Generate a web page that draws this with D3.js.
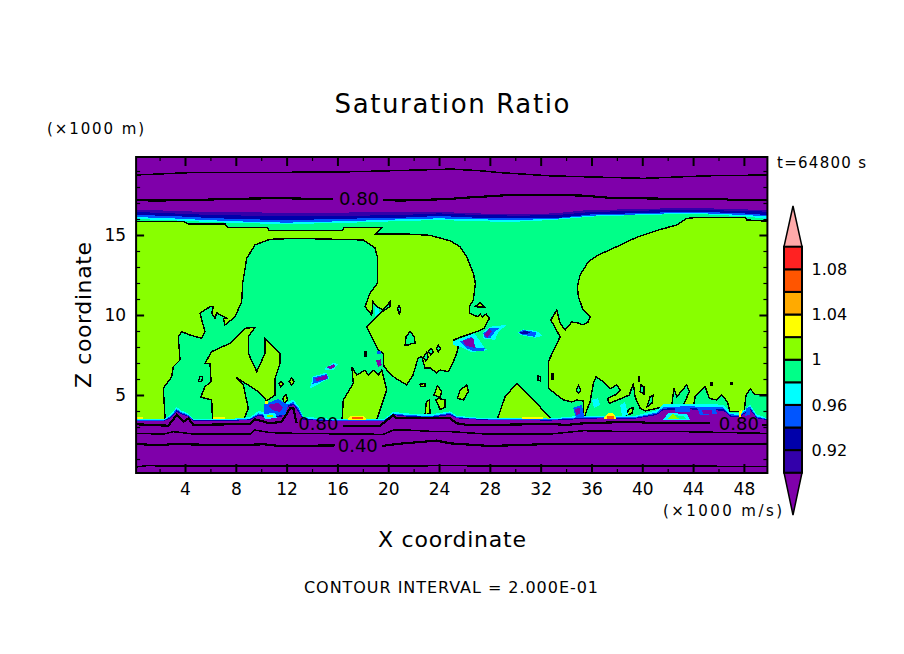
<!DOCTYPE html>
<html>
<head>
<meta charset="utf-8">
<script src="https://cdn.jsdelivr.net/npm/d3@7"></script>
<style>
  html, body { margin: 0; padding: 0; background: #fff; }
  svg { display: block; }
  text { font-family: "DejaVu Sans", sans-serif; fill: #000; }
</style>
</head>
<body>
<div id="chart"></div>
<script>
// colour levels of the shaded field
const levelEdges = [0.90, 0.92, 0.94, 0.96, 0.98, 1.00, 1.02, 1.04, 1.06, 1.08, 1.10]
const levelColors = ["#3300aa", "#0000aa", "#0055ff", "#00ffff", "#00ff88", "#88ff00", "#ffff00", "#ffaa00", "#ff5500", "#ff2222"]
const belowColor = "#7f00aa"
const aboveColor = "#ffaaaa"
const barLabels = [0.92, 0.96, 1, 1.04, 1.08]

const xMajor = [4, 8, 12, 16, 20, 24, 28, 32, 36, 40, 44, 48]
const xMinor = [2, 6, 10, 14, 18, 22, 26, 30, 34, 38, 42, 46]
const zMajor = [5, 10, 15]
const zMinor = [1, 2, 3, 4, 6, 7, 8, 9, 11, 12, 13, 14, 16, 17, 18, 19]

// tropopause band edges, z of each colour boundary
const tropX = [0.15, 3, 6, 9, 12, 15, 18, 21, 24, 27, 30, 33, 36, 39, 42, 45, 48, 49.85]
const tropPurple = [16.56, 16.52, 16.42, 16.42, 16.38, 16.38, 16.42, 16.42, 16.44, 16.35, 16.29, 16.35, 16.58, 16.6, 16.67, 16.67, 16.6, 16.56]
const tropIndigo = [16.44, 16.35, 16.25, 16.21, 16.17, 16.17, 16.21, 16.25, 16.35, 16.25, 16.21, 16.23, 16.44, 16.5, 16.56, 16.56, 16.5, 16.46]
const tropDark = [16.25, 16.19, 16.06, 15.98, 15.94, 15.98, 16.04, 16.08, 16.19, 16.08, 16.04, 16.04, 16.29, 16.35, 16.42, 16.44, 16.35, 16.25]
const tropBlue = [16.12, 16.04, 15.92, 15.83, 15.77, 15.83, 15.9, 15.98, 16.04, 15.98, 15.94, 16.0, 16.21, 16.27, 16.35, 16.35, 16.25, 16.17]
const tropCyan = [16.0, 15.92, 15.81, 15.73, 15.69, 15.73, 15.79, 15.87, 15.94, 15.85, 15.83, 15.94, 16.15, 16.23, 16.29, 16.29, 16.17, 16.0]

// boundary layer band edges
const surfX = [0.15, 2.3, 2.82, 3.34, 3.74, 4.26, 4.66, 7.54, 9.12, 9.77, 10.69, 11.61, 12.0, 12.53, 12.92, 13.32, 15.94, 19.62, 20.01, 20.4, 21.45, 23.29, 24.87,
    25.39, 27.49, 32.74, 34.84, 36.68, 39.31, 41.14, 41.67, 43.77, 44.82, 46.39, 46.92, 47.7, 48.49, 49.02, 49.85]
const surfPurple = [3.35, 3.35, 3.54, 3.96, 3.79, 3.65, 3.38, 3.38, 3.44, 3.71, 3.54, 3.65, 4.23, 4.38, 3.96, 3.44, 3.35, 3.35, 3.54, 3.75, 3.65, 3.58, 3.75,
    3.54, 3.44, 3.4, 3.48, 3.54, 3.5, 3.75, 4.06, 4.1, 4.06, 4.02, 3.65, 3.65, 4.06, 3.54, 3.44]
const surfDark = [3.39, 3.39, 3.6, 4.04, 3.85, 3.7, 3.42, 3.41, 3.48, 3.78, 3.62, 3.75, 4.32, 4.47, 4.08, 3.5, 3.39, 3.39, 3.58, 3.8, 3.7, 3.63, 3.82,
    3.58, 3.47, 3.44, 3.54, 3.58, 3.55, 3.82, 4.15, 4.2, 4.15, 4.12, 3.72, 3.7, 4.15, 3.6, 3.47]
const surfBlue = [3.42, 3.42, 3.65, 4.12, 3.92, 3.75, 3.46, 3.44, 3.52, 3.85, 3.7, 3.85, 4.4, 4.55, 4.2, 3.55, 3.42, 3.42, 3.62, 3.85, 3.75, 3.68, 3.88,
    3.62, 3.5, 3.47, 3.6, 3.62, 3.6, 3.9, 4.25, 4.3, 4.25, 4.22, 3.8, 3.75, 4.25, 3.65, 3.5]
const surfCyan = [3.48, 3.48, 3.75, 4.25, 4.02, 3.85, 3.52, 3.5, 3.62, 4.0, 3.85, 4.0, 4.55, 4.7, 4.32, 3.65, 3.48, 3.48, 3.7, 3.95, 3.85, 3.78, 3.98,
    3.7, 3.55, 3.53, 3.68, 3.7, 3.68, 4.05, 4.45, 4.45, 4.42, 4.4, 3.9, 3.85, 4.4, 3.78, 3.55]

// regions above 1.0 [x, z]
const limeLeft = [[0.15, 3.1], [0.15, 15.85], [3.84, 15.85], [4.24, 15.69], [7.15, 15.69], [7.35, 15.48], [10.5, 15.48], [10.61, 15.29], [16.36, 15.29], [16.52, 15.46], [19.47, 15.46], [18.96, 15.06], [21.48, 15.06], [23.29, 14.98], [24.87, 14.64], [25.65, 14.27], [26.18, 13.64], [26.7, 12.61], [26.86, 11.98], [26.7, 10.94], [26.39, 10.52], [26.39, 10.11], [27.07, 9.88], [27.23, 10.06], [27.45, 9.88], [27.7, 10.06], [27.96, 9.79], [27.54, 9.17], [26.97, 8.96], [25.79, 8.64], [25.13, 8.44], [25.52, 8.02], [25.39, 7.61], [25.13, 7.08], [24.73, 6.46], [24.08, 6.56], [23.82, 6.38], [23.29, 6.69], [22.9, 6.69], [22.64, 7.39], [22.35, 7.31], [21.95, 6.25], [21.46, 5.63], [20.54, 6.06], [19.88, 6.56], [19.61, 6.88], [19.61, 7.61], [19.22, 7.81], [18.83, 8.44], [18.31, 9.27], [18.83, 9.69], [19.35, 10.11], [20.14, 10.52], [20.14, 10.83], [19.59, 10.31], [19.09, 10.52], [18.8, 10.83], [18.7, 10.0], [18.17, 10.52], [18.57, 11.38], [19.14, 11.98], [19.14, 13.64], [18.96, 14.19], [18.02, 14.69], [12.8, 14.79], [10.69, 14.73], [9.51, 14.38], [8.86, 13.54], [8.54, 11.98], [8.46, 10.83], [7.94, 9.89], [7.15, 9.38], [7.02, 9.79], [7.28, 9.79], [6.5, 10.14], [6.36, 9.79], [6.1, 10.11], [6.23, 10.52], [5.97, 10.52], [5.18, 10.11], [5.57, 8.96], [5.31, 8.54], [4.39, 8.75], [3.74, 8.96], [3.47, 8.64], [3.61, 7.19], [3.08, 6.77], [2.95, 6.14], [2.29, 5.42], [2.43, 3.54], [2.43, 3.13]]
const limeMiddle = [[6.18, 3.13], [6.1, 4.69], [5.24, 4.86], [5.57, 5.52], [6.05, 5.83], [5.97, 6.98], [5.57, 6.98], [6.1, 7.71], [7.54, 8.23], [8.72, 9.17], [9.51, 9.23], [8.98, 8.64], [8.98, 7.61], [9.65, 6.46], [10.3, 7.61], [10.3, 8.54], [11.48, 7.61], [11.48, 6.98], [11.09, 6.04], [11.09, 5.0], [10.43, 4.64], [9.77, 5.21], [8.02, 6.11], [8.59, 5.63], [8.98, 4.17], [8.46, 3.13]]
const limeTeeth = [[16.34, 3.13], [16.46, 4.69], [17.25, 5.73], [17.13, 6.77], [17.52, 6.25], [18.17, 6.56], [18.43, 6.25], [18.8, 6.56], [19.22, 6.25], [19.49, 6.56], [19.88, 5.31], [18.96, 3.13]]
const limeHill = [[28.59, 3.13], [28.59, 3.5], [29.2, 4.89], [30.12, 5.73], [31.03, 5.0], [32.87, 3.5], [32.87, 3.13]]
const limeRight = [[49.85, 15.86], [49.85, 5], [48.88, 5.04], [48.49, 5.38], [48.17, 5], [48.02, 3.96], [46.91, 3.96], [46.7, 4.58], [46.26, 5], [45.87, 4.69], [45.28, 4.79], [44.95, 5.52], [44.16, 4.89], [44.02, 4.27], [43.24, 4.38], [43.71, 5.21], [43.5, 5.63], [42.72, 4.89], [42.5, 5.42], [42.32, 4.38], [41.14, 4.17], [40.22, 4], [39.83, 4.17], [39.43, 4.89], [39.3, 5.73], [38.98, 5], [38.25, 4.75], [37.41, 4.48], [37.25, 4.79], [37.86, 5], [38.25, 5.31], [37.99, 5.63], [37.46, 5.38], [36.94, 5.83], [36.36, 6.14], [36.15, 5.73], [35.89, 4.58], [35.63, 4.06], [35.5, 3.75], [35.5, 3.4], [35.36, 3.64], [35.36, 4.63], [34.84, 4.69], [34.45, 4.56], [33.79, 4.69], [32.6, 5.42], [32.6, 7.08], [33.53, 8.64], [32.8, 9.69], [33.27, 10.31], [33.53, 9.5], [33.92, 9.06], [34.45, 9.56], [34.95, 9.5], [35.34, 9.38], [35.73, 9.56], [35.89, 9.88], [35.34, 10.31], [34.97, 11.14], [34.89, 11.77], [35.1, 12.5], [35.76, 13.33], [36.54, 13.75], [37.99, 14.27], [39.57, 14.86], [41.27, 15.31], [42.72, 15.63], [43.5, 16.04], [44.55, 16.11], [48.1, 16.11], [48.24, 15.94]]
const limeIslands = [
    [[12.19, 5.83], [12.4, 6.08], [12.58, 5.83], [12.4, 5.62]],
    [[11.4, 5.73], [11.56, 5.87], [11.74, 5.69], [11.53, 5.52]],
    [[11.69, 4.79], [11.95, 5], [12.08, 4.69], [11.8, 4.48]],
    [[22.9, 3.75], [23, 4.58], [23.24, 4.69], [23.29, 3.85]],
    [[23.76, 4.69], [23.95, 4.79], [24.47, 4.69], [24.47, 4.23], [24.08, 4.1]],
    [[23.6, 5], [23.87, 5.58], [24.21, 5.21], [24.08, 4.85]],
    [[22.5, 5.67], [22.9, 5.72], [22.9, 5.55], [22.55, 5.55]],
    [[26.84, 10.52], [27.23, 10.77], [27.57, 10.48]],
    [[25.45, 4.79], [25.66, 5.31], [26.18, 5.63], [26.31, 5.21], [25.92, 4.69]],
    [[38.78, 3.75], [38.91, 4.1], [39.31, 4.23], [39.18, 3.85]]
]
// pockets below 1.0 inside the lime regions
const greenIslands = [
    [[20.84, 10.6], [20.97, 10.4], [20.89, 10.0], [20.73, 10.4]],
    [[21.33, 8.13], [21.41, 8.65], [21.72, 8.96], [22.04, 8.65], [22.12, 8.23], [21.86, 8.23], [21.6, 8.13]],
    [[23.16, 7.7], [23.37, 7.92], [23.56, 7.7], [23.36, 7.5]],
    [[23.8, 7.92], [23.93, 8.13], [24.12, 7.92], [23.93, 7.7]],
    [[22.77, 7.35], [23.03, 7.67], [23.16, 7.35], [22.96, 7.14]],
    [[5.04, 5.83], [5.18, 6.14], [5.39, 6.14], [5.31, 5.83]],
    [[31.78, 5.94], [31.78, 6.2], [32.0, 6.14], [31.97, 5.88]],
    [[34.8, 5.31], [34.97, 5.58], [35.16, 5.31], [34.97, 5.1]],
    [[39.83, 5.19], [39.91, 5.63], [40.14, 5.5], [40.14, 5.06]],
    [[40.37, 4.25], [40.61, 4.88], [40.85, 5], [40.77, 4.5]],
    [[32.9, 6.0], [32.9, 6.35], [33.02, 6.35], [33.02, 6.0]],
    [[18.12, 7.4], [18.12, 7.7], [18.24, 7.7], [18.24, 7.4]],
    [[39.7, 5.88], [39.7, 6.13], [39.8, 6.13], [39.8, 5.88]],
    [[45.42, 5.6], [45.42, 5.8], [45.52, 5.8], [45.52, 5.6]],
    [[47.0, 5.65], [47.0, 5.8], [47.08, 5.8], [47.08, 5.65]]
]

// scattered low-saturation patches
const patchCyan = [
    [[25.08, 8.33], [25.79, 8.54], [26.7, 8.85], [26.97, 8.65], [27.62, 7.92], [27.89, 7.81], [26.84, 7.71], [26.44, 7.71], [25.65, 8.02], [25.13, 8.12]],
    [[27.49, 8.96], [28.02, 9.27], [29.33, 9.38], [28.67, 8.96], [28.41, 8.44], [27.49, 8.54]],
    [[30.2, 8.9], [30.64, 9.1], [31.69, 9], [32.16, 8.69], [31.56, 8.58], [30.38, 8.75]],
    [[14.89, 6.6], [15.68, 7.02], [16.05, 6.92], [15.68, 6.56]],
    [[13.84, 5.42], [14.05, 6.15], [15.15, 6.4], [15.34, 6.04], [14.63, 5.73]],
    [[18.96, 10.5], [19.2, 10.44], [19.35, 10.13], [18.96, 9.94]],
    [[36.05, 4.69], [36.52, 4.81], [36.68, 4.38], [36.2, 4.19]],
    [[38.25, 4.38], [38.65, 4.56], [38.88, 3.75], [38.41, 3.69]]
]
const patchBlue = [
    [[25.65, 8.33], [26.57, 8.65], [26.91, 7.92], [27.62, 7.92], [27.54, 7.77], [26.7, 7.75], [26.18, 7.92]],
    [[27.49, 8.85], [28.02, 9.21], [28.75, 9.17], [28.41, 8.96], [28.02, 8.54], [27.62, 8.54]],
    [[30.27, 8.92], [30.64, 9.06], [31.64, 8.92], [31.56, 8.63], [30.43, 8.79]],
    [[14.03, 5.69], [14.1, 6.1], [15.15, 6.31], [15.29, 6.04], [14.5, 5.79]],
    [[19.09, 7.77], [19.41, 7.77], [19.41, 7.54], [19.09, 7.54]],
    [[10.2, 4.4], [11.33, 4.75], [12.11, 4.38], [11.88, 3.75], [10.2, 3.75]],
    [[42.58, 4.19], [43.77, 4.25], [43.77, 3.94], [42.58, 3.94]],
    [[44.31, 4.19], [45.73, 4.25], [45.89, 3.81], [44.55, 3.75]],
    [[34.55, 4.19], [35.26, 4.38], [35.42, 3.63], [34.79, 3.56]],
    [[48.2, 4.2], [48.55, 4.25], [48.45, 3.75], [48.1, 3.7]]
]
const patchDark = [[[30.38, 8.9], [30.85, 9.02], [31.3, 8.85], [30.51, 8.83]]]
const patchPurple = [
    [[25.86, 8.4], [26.7, 8.58], [26.84, 7.92], [26.44, 8.02], [26.05, 8.12]],
    [[27.54, 8.75], [27.96, 9.17], [28.15, 8.96], [27.81, 8.58]],
    [[15.15, 6.73], [15.73, 6.94], [15.81, 6.77], [15.42, 6.6]],
    [[14.26, 6.04], [15.15, 6.25], [15.15, 5.98], [14.37, 5.88]],
    [[19.04, 7.15], [19.41, 7.23], [19.49, 6.88], [19.22, 6.77]],
    [[10.54, 4.38], [11.33, 4.5], [11.72, 4.25], [11.48, 3.94], [10.85, 4.06]],
    [[44.71, 4.06], [45.5, 4.06], [45.5, 3.81], [44.79, 3.81]],
    [[34.7, 4.13], [35.1, 4.19], [35.1, 3.81], [34.79, 3.75]]
]
// holes in the boundary layer
const holeCyan = [
    [[10.14, 3.81], [11.09, 3.88], [11.25, 3.56], [10.3, 3.5]],
    [[41.64, 3.44], [42.03, 3.88], [43.53, 3.81], [43.77, 3.44]]
]
const holeGreen = [[[42.03, 3.5], [42.27, 3.75], [43.29, 3.69], [43.45, 3.5]]]
const holeLime = [
    [[10.46, 3.75], [10.93, 3.75], [10.93, 3.62], [10.46, 3.62]],
    [[42.0, 3.5], [42.4, 3.85], [42.9, 3.5]]
]
// supersaturated spots
const spotYellow = [
    [[0.2, 3.6], [0.67, 3.6], [0.67, 3.48], [0.2, 3.48]],
    [[6.23, 3.62], [7.15, 3.62], [7.15, 3.48], [6.23, 3.48]],
    [[16.86, 3.55], [17.1, 3.7], [18.0, 3.7], [18.25, 3.55], [18.25, 3.42], [16.86, 3.42]],
    [[30.51, 3.65], [32.22, 3.65], [32.22, 3.48], [30.51, 3.48]],
    [[37.0, 3.6], [37.3, 3.85], [37.7, 3.85], [37.93, 3.6], [37.93, 3.48], [37.0, 3.48]],
    [[10.3, 4.63], [10.54, 4.63], [10.54, 4.44], [10.3, 4.44]],
    [[47.6, 4.0], [47.85, 4.05], [47.75, 3.6], [47.65, 3.6]]
]
const spotOrange = [
    [[17.12, 3.65], [18.04, 3.65], [18.04, 3.48], [17.12, 3.48]],
    [[37.2, 3.7], [37.75, 3.7], [37.75, 3.52], [37.2, 3.52]]
]

// contour lines
const lineTop = [[0.15, 18.75], [4.4, 18.9], [15.8, 18.93], [19.5, 19.0], [25, 19.12], [27.2, 19.02], [28.8, 18.9], [32.7, 18.7], [40.1, 18.54], [45.1, 18.7], [49.85, 18.75]]
const lineUpper80a = [[0.15, 17.19], [1.51, 17.15], [4.92, 17.19], [7.28, 17.25], [10.17, 17.29], [12.27, 17.29], [15.68, 17.23]]
const lineUpper80b = [[19.62, 17.19], [20.93, 17.15], [24.87, 17.25], [25.66, 17.31], [29.99, 17.52], [32.74, 17.52], [35.37, 17.46], [37.34, 17.33], [42.98, 17.25], [46.65, 17.25], [46.8, 17.19], [49.85, 17.19]]
const lineLower80a = [[0.15, 3.17], [2.69, 3.08], [3.34, 3.75], [3.87, 3.33], [4.26, 3.54], [4.66, 3.13], [9.12, 3.19], [9.51, 3.48], [10.69, 3.23], [11.61, 3.33], [11.87, 3.65], [12.27, 4.17], [12.53, 4.17], [12.79, 3.23]]
const lineLower80b = [[16.47, 3.08], [19.35, 3.06], [19.75, 3.33], [20.4, 3.75], [20.67, 3.54], [24.87, 3.54], [25.39, 3.23], [26.44, 3.1], [28.02, 3.13], [32.74, 3.19], [34.06, 3.13], [35.37, 3.23], [39.31, 3.33], [40.88, 3.23], [45.34, 3.23]]
const lineLower80c = [[49.41, 3.13], [49.85, 3.13]]
const lineSixty = [[0.15, 2.6], [2.3, 2.56], [3.08, 2.71], [4.66, 2.56], [9.12, 2.56], [9.51, 2.81], [10.69, 2.65], [12.79, 2.6], [19.62, 2.54], [20.4, 2.81], [21.45, 2.81], [23.8, 2.71], [24.87, 2.71], [27.75, 2.56], [32.74, 2.56], [35.37, 2.77], [39.05, 2.71], [43.24, 2.71], [49.85, 2.6]]
const lineForty_a = [[0.15, 1.94], [2.03, 1.85], [3.08, 1.94], [7.54, 1.85], [10.17, 1.92], [11.48, 1.81], [15.81, 1.85]]
const lineForty_b = [[19.49, 1.81], [20.67, 1.94], [23.8, 2.15], [24.87, 1.98], [28.02, 1.81], [32.74, 1.94], [49.85, 1.94]]
const lineBottom = [[0.15, 0.5], [0.98, 0.58], [7.54, 0.56], [24.87, 0.58], [49.85, 0.54]]

const contourLabelText = ["0.80", "0.80", "0.40", "0.80"]
const contourLabelX = [17.7, 14.5, 17.6, 47.6]
const contourLabelZ = [17.25, 3.19, 1.87, 3.19]

const WIDTH = 904
const HEIGHT = 654

const svg = d3.select("#chart").append("svg")
    .attr("width", WIDTH)
    .attr("height", HEIGHT)

const x = d3.scaleLinear().domain([0.15, 49.85]).range([136.1, 767.4])
const z = d3.scaleLinear().domain([0.125, 19.875]).range([473, 157])

svg.append("clipPath").attr("id", "plot-clip")
    .append("rect")
    .attr("x", x.range()[0])
    .attr("y", z.range()[1])
    .attr("width", x.range()[1] - x.range()[0])
    .attr("height", z.range()[0] - z.range()[1])

const field = svg.append("g").attr("clip-path", "url(#plot-clip)").attr("shape-rendering", "crispEdges")

const polyPath = d3.line().x(d => x(d[0])).y(d => z(d[1]))
const drawPolys = (polys, color, outlined) => {
    field.append("g").selectAll("path")
        .data(polys)
        .enter()
        .append("path")
        .attr("d", d => polyPath(d) + "Z")
        .attr("fill", color)
        .attr("stroke", outlined ? "#000" : "none")
        .attr("stroke-width", outlined ? 1.4 : 0)
}

const lime = levelColors[5]
const green = levelColors[4]
const cyan = levelColors[3]
const blue = levelColors[2]
const dark = levelColors[1]
const indigo = levelColors[0]

field.append("rect")
    .attr("x", x.range()[0])
    .attr("y", z.range()[1])
    .attr("width", x.range()[1] - x.range()[0])
    .attr("height", z.range()[0] - z.range()[1])
    .attr("fill", green)

drawPolys([limeLeft, limeMiddle, limeTeeth, limeHill, limeRight], lime, true)
drawPolys(limeIslands, lime, true)
drawPolys(greenIslands, green, true)

// tropopause, drawn from the outermost band in
const tropArea = d3.area()
    .x((d, i) => x(tropX[i]))
    .y0(z(19.875))
    .y1(d => z(d))
const tropBands = [[tropCyan, cyan], [tropBlue, blue], [tropDark, dark], [tropIndigo, indigo], [tropPurple, belowColor]]
tropBands.forEach(([edge, color]) => {
    field.append("path").attr("d", tropArea(edge)).attr("fill", color)
})

// boundary layer
const surfArea = d3.area()
    .x((d, i) => x(surfX[i]))
    .y0(z(0.125))
    .y1(d => z(d))
const surfBands = [[surfCyan, cyan], [surfBlue, blue], [surfDark, dark], [surfPurple, belowColor]]
surfBands.forEach(([edge, color]) => {
    field.append("path").attr("d", surfArea(edge)).attr("fill", color)
})

drawPolys(patchCyan, cyan, false)
drawPolys(patchBlue, blue, false)
drawPolys(patchDark, dark, false)
drawPolys(patchPurple, belowColor, false)
drawPolys(holeCyan, cyan, false)
drawPolys(holeGreen, green, false)
drawPolys(holeLime, lime, false)
drawPolys(spotYellow, levelColors[6], false)
drawPolys(spotOrange, levelColors[8], false)

const thinLines = [lineTop, lineSixty, lineBottom]
const thickLines = [lineUpper80a, lineUpper80b, lineLower80a, lineLower80b, lineLower80c, lineForty_a, lineForty_b]
field.append("g").selectAll("path")
    .data(thinLines)
    .enter()
    .append("path")
    .attr("d", polyPath)
    .attr("fill", "none")
    .attr("stroke", "#000")
    .attr("stroke-width", 1.5)
field.append("g").selectAll("path")
    .data(thickLines)
    .enter()
    .append("path")
    .attr("d", polyPath)
    .attr("fill", "none")
    .attr("stroke", "#000")
    .attr("stroke-width", 2.2)

svg.append("g").selectAll("text")
    .data(contourLabelText)
    .enter()
    .append("text")
    .attr("x", (d, i) => x(contourLabelX[i]))
    .attr("y", (d, i) => z(contourLabelZ[i]))
    .attr("dy", "0.36em")
    .attr("text-anchor", "middle")
    .attr("font-size", 18)
    .text(d => d)

// axes, all ticks point inward
const addAxis = (axis, tx, ty, values, size, labelled) => {
    const g = svg.append("g")
        .attr("transform", `translate(${tx},${ty})`)
        .call(axis.tickValues(values).tickSizeInner(-size).tickSizeOuter(0).tickPadding(labelled ? 10 : 0)
            .tickFormat(labelled ? d3.format("d") : ""))
    g.select(".domain").remove()
    g.selectAll(".tick line").attr("stroke", "#000").attr("stroke-width", size > 5 ? 2 : 1.2)
    g.selectAll("text").attr("font-size", 17).attr("font-family", null).attr("fill", null)
    return g
}
const bottomY = z.range()[0]
const topY = z.range()[1]
const leftX = x.range()[0]
const rightX = x.range()[1]
addAxis(d3.axisBottom(x), 0, bottomY, xMajor, 9, true)
addAxis(d3.axisBottom(x), 0, bottomY, xMinor, 4, false)
addAxis(d3.axisTop(x), 0, topY, xMajor, 9, false)
addAxis(d3.axisTop(x), 0, topY, xMinor, 4, false)
addAxis(d3.axisLeft(z), leftX, 0, zMajor, 8, true)
addAxis(d3.axisLeft(z), leftX, 0, zMinor, 4, false)
addAxis(d3.axisRight(z), rightX, 0, zMajor, 8, false)
addAxis(d3.axisRight(z), rightX, 0, zMinor, 4, false)

svg.append("rect")
    .attr("x", leftX)
    .attr("y", topY)
    .attr("width", rightX - leftX)
    .attr("height", bottomY - topY)
    .attr("fill", "none")
    .attr("stroke", "#000")
    .attr("stroke-width", 2)

// colour bar
const barScale = d3.scaleLinear().domain([0.9, 1.1]).range([472.7, 246.7])
const barLeft = 784
const barRight = 802
const barMid = (barLeft + barRight) / 2
const bar = svg.append("g")
bar.append("path")
    .attr("d", d3.line()([[barLeft, barScale(1.1)], [barMid, 206], [barRight, barScale(1.1)]]) + "Z")
    .attr("fill", aboveColor)
    .attr("stroke", "#000")
    .attr("stroke-width", 1.5)
bar.append("path")
    .attr("d", d3.line()([[barLeft, barScale(0.9)], [barMid, 515], [barRight, barScale(0.9)]]) + "Z")
    .attr("fill", belowColor)
    .attr("stroke", "#000")
    .attr("stroke-width", 1.5)
bar.selectAll("rect")
    .data(levelColors)
    .enter()
    .append("rect")
    .attr("x", barLeft)
    .attr("y", (d, i) => barScale(levelEdges[i + 1]))
    .attr("width", barRight - barLeft)
    .attr("height", (d, i) => barScale(levelEdges[i]) - barScale(levelEdges[i + 1]))
    .attr("fill", d => d)
    .attr("stroke", "#000")
    .attr("stroke-width", 2)
bar.selectAll("text")
    .data(barLabels)
    .enter()
    .append("text")
    .attr("x", 811.5)
    .attr("y", d => barScale(d))
    .attr("dy", "0.36em")
    .attr("font-size", 16)
    .text(d => d)

// titles and notes
const addText = (label, tx, ty, size, anchor, length, rotate) => {
    const t = svg.append("text")
        .attr("x", tx)
        .attr("y", ty)
        .attr("font-size", size)
        .attr("text-anchor", anchor)
        .text(label)
    if (length) t.attr("textLength", length).attr("lengthAdjust", "spacing")
    if (rotate) t.attr("transform", `rotate(${rotate},${tx},${ty})`)
}
addText("Saturation Ratio", 452, 113, 26, "middle", 235)
addText("(×1000 m)", 47, 134, 15, "start", 97)
addText("t=64800 s", 777, 168, 15, "start", 89)
addText("(×1000 m/s)", 663, 516, 15, "start", 119)
addText("X coordinate", 452, 547, 22, "middle", 148)
addText("Z coordinate", 91, 315, 22, "middle", 146, -90)
addText("CONTOUR INTERVAL = 2.000E-01", 451, 593, 16, "middle", 294)
</script>
</body>
</html>
